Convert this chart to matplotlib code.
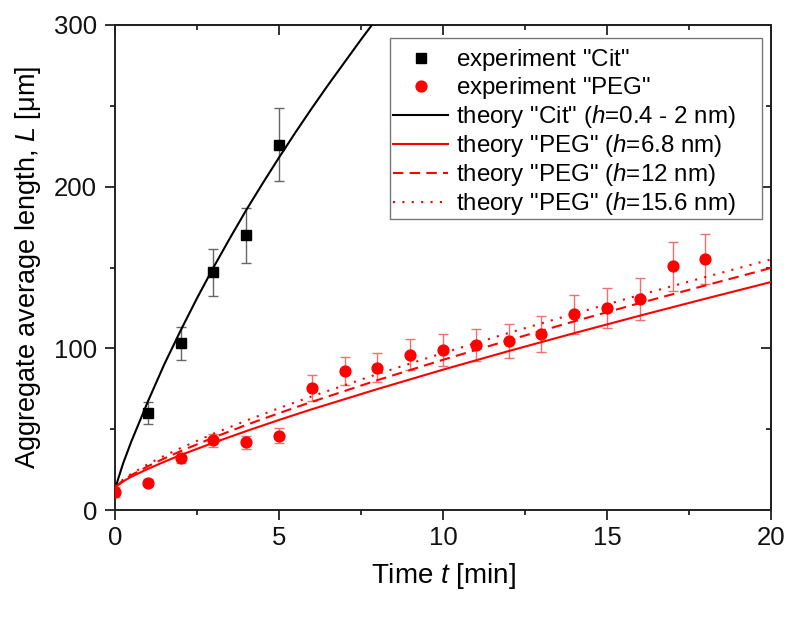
import matplotlib
matplotlib.use("Agg")
import matplotlib.pyplot as plt
from matplotlib.ticker import MultipleLocator
from matplotlib.patches import Rectangle

plt.rcParams['font.family'] = ['Liberation Sans', 'DejaVu Sans']
plt.rcParams['mathtext.fontset'] = 'custom'
plt.rcParams['mathtext.rm'] = 'Liberation Sans'
plt.rcParams['mathtext.it'] = 'Liberation Sans:italic'

# experiment "Cit"
t_cit = [1, 2, 3, 4, 5]
L_cit = [60, 103, 147, 170, 226]
err_cit = [6.5, 10, 14.5, 17, 22.5]

# experiment "PEG"
t_peg = list(range(0, 19))
L_peg = [11, 17, 32, 43, 42, 46, 75.5, 86, 88, 96, 99, 102, 104.5, 109, 121, 125, 130.7, 150.7, 155]
err_peg = [3, 2, 3, 4, 4, 4.5, 8, 8.5, 9, 9.5, 10, 10, 10.3, 11, 12, 12.4, 13, 15, 15.5]

# theory "Cit"
t_th_cit = [0, 0.05, 0.1, 0.25, 0.5, 1, 1.5, 2, 2.5, 3, 3.5, 4, 4.5, 5, 5.5, 6, 6.5, 7, 7.5, 8]
L_th_cit = [12, 16, 19.5, 29, 42.5, 67, 90, 111, 131, 150, 168, 185.5, 202, 218, 233.5, 248.5, 263, 277, 291, 304.5]

# theory "PEG"
t_th_peg = [0, 0.25, 0.5, 1, 1.5, 2, 3, 4, 5, 6, 8, 10, 12, 14, 16, 18, 20]
L_peg_68 = [14, 17.7, 20.6, 25.4, 29.8, 34.0, 41.6, 48.8, 55.7, 62.3, 74.8, 86.8, 98.3, 109.4, 120.2, 130.7, 141]
L_peg_12 = [14, 18.4, 21.6, 27.0, 31.9, 36.4, 44.8, 52.6, 59.9, 66.9, 80.3, 92.9, 105, 116.7, 128, 138.9, 149.7]
L_peg_156 = [14, 19.0, 22.4, 28.3, 33.5, 38.3, 47.2, 55.3, 63.0, 70.3, 84.1, 97.1, 109.5, 121.4, 133, 144.1, 155]

labels = ['experiment "Cit"', 'experiment "PEG"',
          'theory "Cit" ($\\it{h}$=0.4 - 2 nm)', 'theory "PEG" ($\\it{h}$=6.8 nm)',
          'theory "PEG" ($\\it{h}$=12 nm)', 'theory "PEG" ($\\it{h}$=15.6 nm)']

fig = plt.figure(figsize=(7.95, 6.18), dpi=100)
ax = fig.add_axes([115/795, 1 - 510/618, (771 - 115)/795, (510 - 25)/618])

red = '#ff0000'
ax.errorbar(t_cit, L_cit, yerr=err_cit, fmt='none', ecolor='#666666', elinewidth=1, capsize=3.5, capthick=1, zorder=2)
ax.errorbar(t_peg, L_peg, yerr=err_peg, fmt='none', ecolor='#f07070', elinewidth=1, capsize=3.5, capthick=1, zorder=2)

h1, = ax.plot(t_cit, L_cit, 's', color='black', markersize=6.8, linestyle='none', zorder=4)
h2, = ax.plot(t_peg, L_peg, 'o', color=red, markersize=7.8, linestyle='none', zorder=4)
h3, = ax.plot(t_th_cit, L_th_cit, '-', color='black', lw=1.5, zorder=3)
h4, = ax.plot(t_th_peg, L_peg_68, '-', color=red, lw=1.5, zorder=3)
h5, = ax.plot(t_th_peg, L_peg_12, '--', color=red, lw=1.5, dashes=(5, 3), zorder=3)
h6, = ax.plot(t_th_peg, L_peg_156, ':', color=red, lw=1.5, dashes=(1, 3.5), zorder=3)

ax.set_xlim(0, 20)
ax.set_ylim(0, 300)
ax.xaxis.set_major_locator(MultipleLocator(5))
ax.xaxis.set_minor_locator(MultipleLocator(2.5))
ax.yaxis.set_major_locator(MultipleLocator(100))
ax.yaxis.set_minor_locator(MultipleLocator(50))

for sp in ax.spines.values():
    sp.set_linewidth(1.4)
    sp.set_color('#222222')

ax.tick_params(axis='both', which='major', direction='out', length=7, width=1.3, labelsize=18.5, colors='#222222', labelcolor='#111111')
ax.tick_params(axis='x', which='major', pad=4.3)
ax.tick_params(axis='y', which='major', pad=5.8)
ax.tick_params(axis='both', which='minor', direction='out', length=3.8, width=1.3, colors='#222222')

axt = ax.secondary_xaxis('top')
axt.xaxis.set_major_locator(MultipleLocator(5))
axt.xaxis.set_minor_locator(MultipleLocator(2.5))
axt.tick_params(which='major', direction='in', length=7, width=1.3, labeltop=False, colors='#222222')
axt.tick_params(which='minor', direction='in', length=3.8, width=1.3, colors='#222222')
axt.spines['top'].set_linewidth(1.4)
axr = ax.secondary_yaxis('right')
axr.yaxis.set_major_locator(MultipleLocator(100))
axr.yaxis.set_minor_locator(MultipleLocator(50))
axr.tick_params(which='major', direction='in', length=7, width=1.3, labelright=False, colors='#222222')
axr.tick_params(which='minor', direction='in', length=3.8, width=1.3, colors='#222222')
axr.spines['right'].set_linewidth(1.4)

ax.set_xlabel('Time $\\it{t}$ [min]', fontsize=20, labelpad=8)
ax.set_ylabel('Aggregate average length, $\\it{L}$ [μm]', fontsize=19.5, labelpad=8)

# legend frame (drawn separately to reproduce the wide right padding)
frame = Rectangle(((390 - 115) / 656, (510 - 219) / 485), 372 / 656, 181 / 485,
                  transform=ax.transAxes, facecolor='white', edgecolor='#777777',
                  linewidth=1.0, zorder=5)
ax.add_patch(frame)

leg_labels = [lab + '$\\,$' for lab in labels]
leg = ax.legend([h1, h2, h3, h4, h5, h6], leg_labels, loc='upper left',
                bbox_to_anchor=((391 - 115) / 656, (510 - 45) / 485),
                fontsize=17.4, frameon=False,
                handlelength=2.25, handletextpad=0.33, labelspacing=0.08, borderpad=0.1, borderaxespad=0.0)
leg.set_zorder(6)

fig.savefig('out.png', dpi=100)
